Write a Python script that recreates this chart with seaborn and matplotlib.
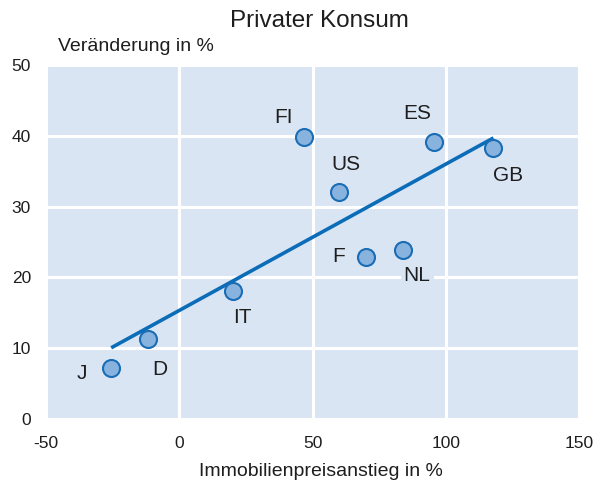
import matplotlib
matplotlib.use("Agg")
import matplotlib.pyplot as plt
import seaborn as sns
import pandas as pd

countries = ["J", "D", "IT", "FI", "US", "F", "NL", "ES", "GB"]
house_price = [-25.6, -11.7, 20.3, 46.7, 59.9, 70.1, 84.0, 95.7, 117.9]
consumption = [7.2, 11.3, 18.1, 39.8, 32.1, 22.9, 23.9, 39.1, 38.3]
x_ticks = [-50, 0, 50, 100, 150]
y_ticks = [0, 10, 20, 30, 40, 50]

df = pd.DataFrame({"x": house_price, "y": consumption, "label": countries})

sns.set_style("darkgrid")
plt.rcParams["font.family"] = ["Liberation Sans", "DejaVu Sans"]
plt.rcParams["axes.unicode_minus"] = False

BG = "#dae5f4"
LINE = "#0b6cb8"
FACE = "#88b3de"
EDGE = "#1a6db5"
TXT = "#1e1e1e"

fig = plt.figure(figsize=(6.0, 4.83), dpi=100)
ax = fig.add_axes([0.077, 0.1325, 0.888, 0.7325])
ax.set_facecolor(BG)

sns.regplot(data=df, x="x", y="y", ax=ax, scatter=False, ci=None,
            line_kws=dict(color=LINE, lw=2.6, solid_capstyle="butt"))
sns.scatterplot(data=df, x="x", y="y", ax=ax, s=150, color=FACE,
                edgecolor=EDGE, linewidth=1.5, zorder=4)

offsets = {"J": (-29, -5), "D": (12, -30), "IT": (9, -27), "FI": (-20, 20),
           "US": (7, 27), "F": (-28, 0), "NL": (14, -26), "ES": (-17, 29),
           "GB": (15, -28)}
for lab, xv, yv in zip(countries, house_price, consumption):
    kw = {}
    if lab == "NL":
        kw["bbox"] = dict(boxstyle="square,pad=0.15", fc=BG, ec="none")
    ax.annotate(lab, (xv, yv), xytext=offsets[lab], textcoords="offset pixels",
                ha="center", va="center", fontsize=15, color=TXT, zorder=5, **kw)

ax.set_xlim(-50, 150)
ax.set_ylim(0, 50)
ax.set_xticks(x_ticks)
ax.set_yticks(y_ticks)
ax.grid(True, color="white", lw=2.2)
for s in ax.spines.values():
    s.set_visible(False)
ax.tick_params(axis="both", length=0, labelsize=12.5, colors=TXT)
ax.tick_params(axis="x", pad=12)
ax.tick_params(axis="y", pad=11)
ax.set_xlabel("Immobilienpreisanstieg in %", fontsize=14, color=TXT, labelpad=8)
ax.xaxis.set_label_coords(0.515, -0.125)
ax.set_ylabel("")
fig.text(0.097, 0.903, "Veränderung in %", fontsize=14, color=TXT, ha="left", va="center")
fig.text(0.532, 0.957, "Privater Konsum", fontsize=17.5, color=TXT, ha="center", va="center")

fig.savefig("out.png", dpi=100)
